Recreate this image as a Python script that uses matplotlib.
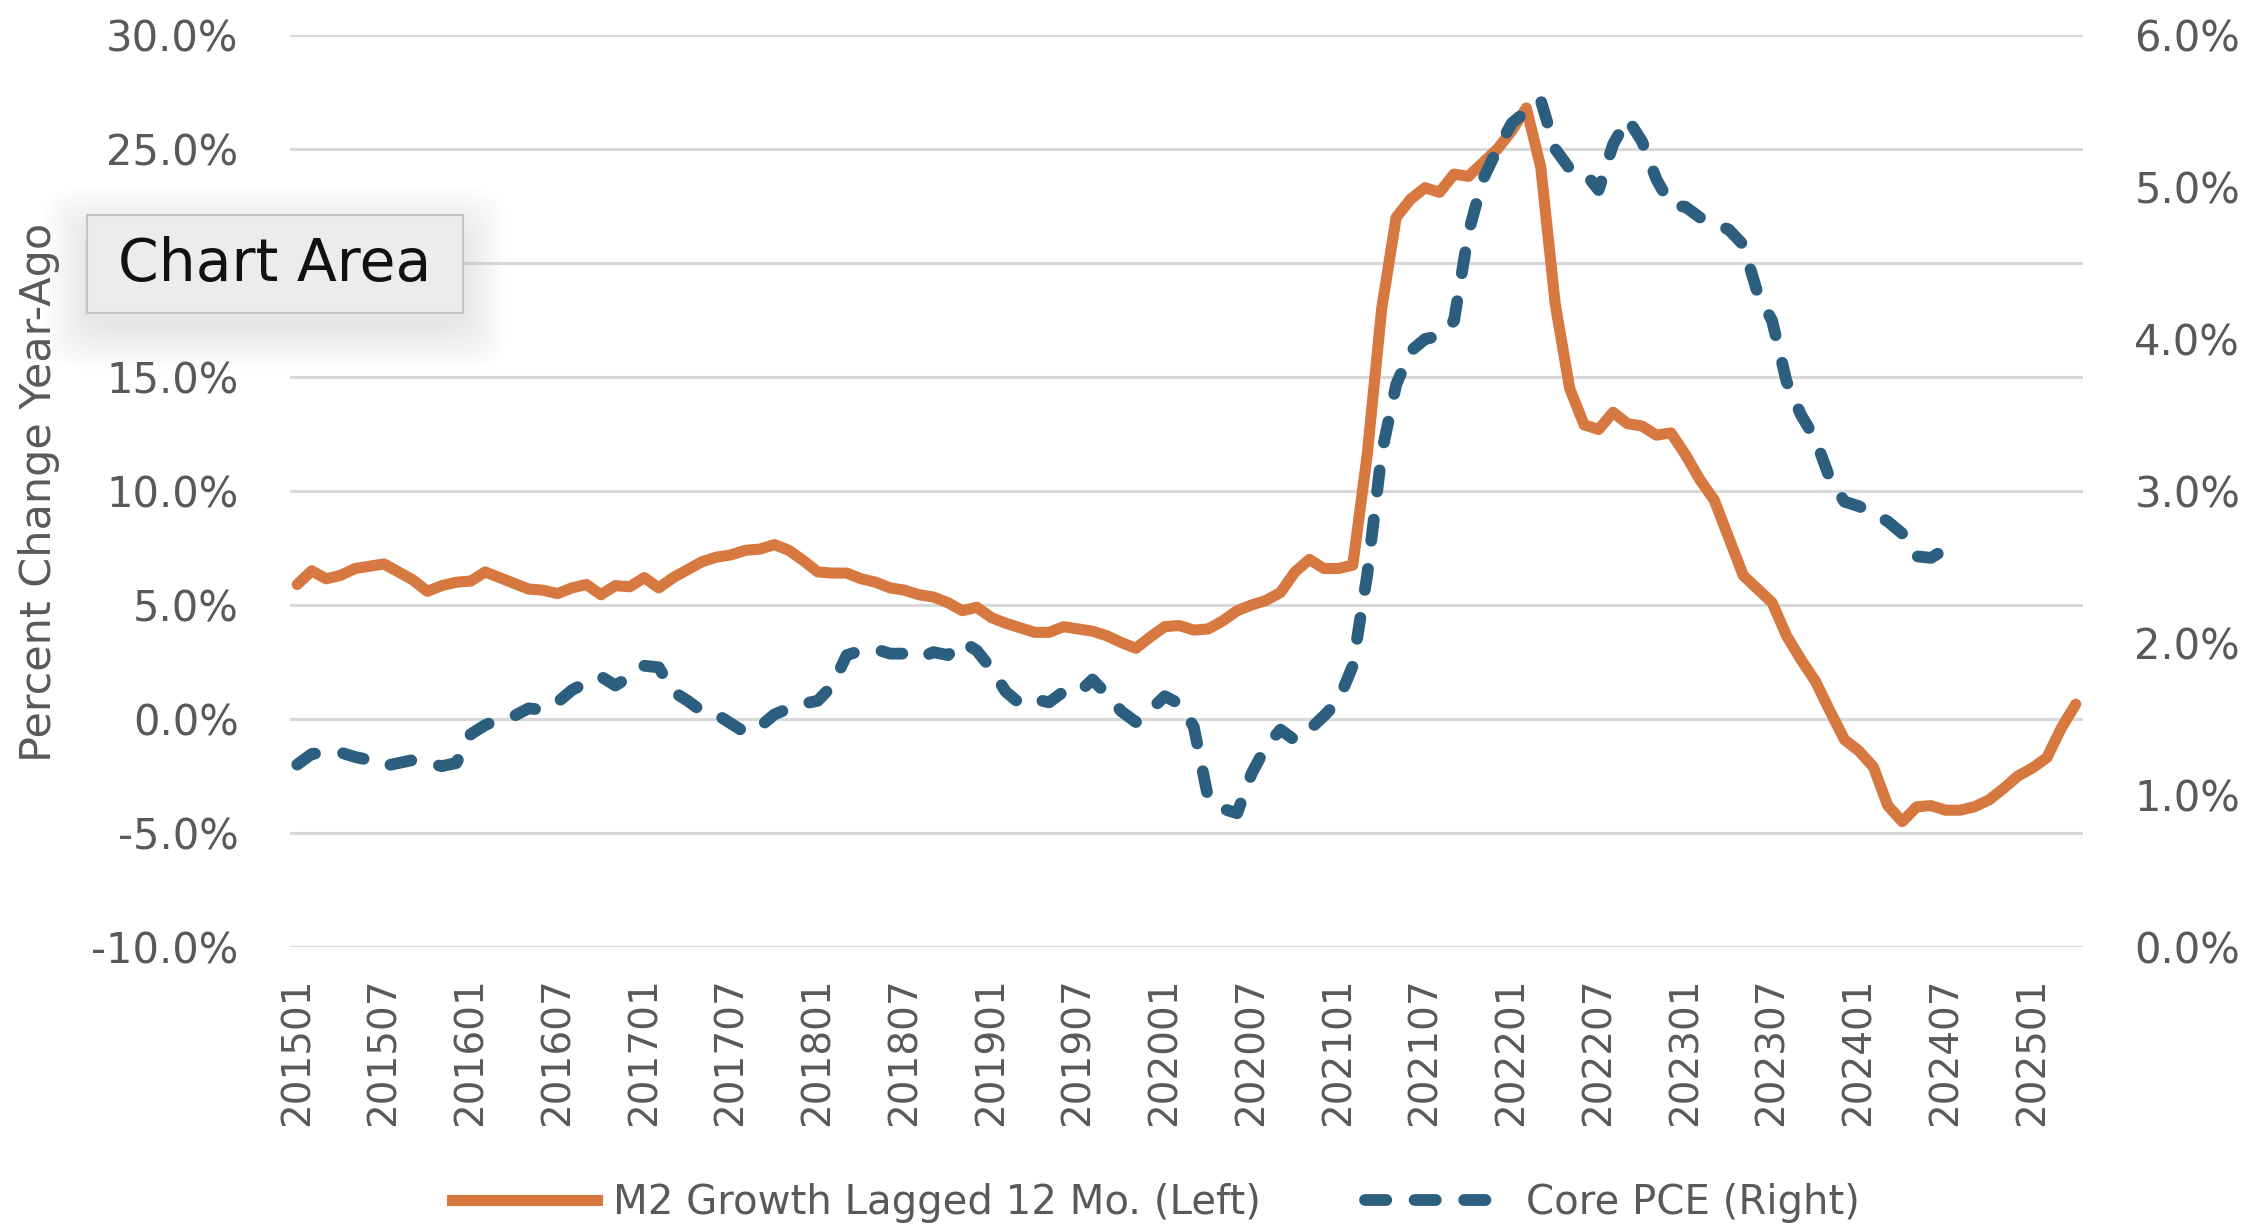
import matplotlib
matplotlib.use("Agg")
import matplotlib.pyplot as plt
from matplotlib.patches import FancyBboxPatch
from matplotlib.lines import Line2D
import pandas as pd

# monthly categories 201501 .. 202504
months = list(pd.period_range("2015-01", "2025-04", freq="M").strftime("%Y%m"))

# M2 growth lagged 12 months, % y/y (left axis)
m2_lagged = [
    5.9, 6.5, 6.15, 6.3, 6.6, 6.7, 6.8, 6.45, 6.1, 5.6, 5.85, 6.0,
    6.05, 6.45, 6.2, 5.95, 5.7, 5.65, 5.5, 5.75, 5.9, 5.45, 5.85, 5.8,
    6.2, 5.75, 6.2, 6.55, 6.9, 7.1, 7.2, 7.4, 7.45, 7.65, 7.4, 6.95,
    6.45, 6.4, 6.4, 6.15, 6.0, 5.75, 5.65, 5.45, 5.35, 5.1, 4.75, 4.9,
    4.45, 4.2, 4.0, 3.8, 3.8, 4.05, 3.95, 3.85, 3.65, 3.35, 3.1, 3.6,
    4.05, 4.1, 3.9, 3.95, 4.3, 4.75, 5.0, 5.2, 5.55, 6.45, 7.0, 6.6,
    6.6, 6.75, 11.6, 18.0, 22.0, 22.8, 23.3, 23.1, 23.9, 23.8, 24.4, 25.0,
    25.8, 26.8, 24.2, 18.2, 14.5, 12.9, 12.7, 13.45, 12.95, 12.85, 12.45, 12.55,
    11.6, 10.5, 9.6, 7.95, 6.3, 5.7, 5.1, 3.65, 2.6, 1.65, 0.35, -0.9,
    -1.4, -2.1, -3.8, -4.5, -3.85, -3.8, -4.0, -4.0, -3.85, -3.55, -3.05, -2.5,
    -2.15, -1.7, -0.4, 0.65,
]

# Core PCE, % y/y (right axis), ends 202407
core_pce = [
    1.20, 1.27, 1.28, 1.28, 1.25, 1.23, 1.19, 1.21, 1.23, 1.21, 1.19, 1.21,
    1.40, 1.46, 1.50, 1.52, 1.57, 1.56, 1.61, 1.69, 1.74, 1.78, 1.72, 1.78,
    1.85, 1.84, 1.68, 1.62, 1.55, 1.53, 1.47, 1.41, 1.45, 1.53, 1.57, 1.60,
    1.62, 1.72, 1.92, 1.95, 1.96, 1.93, 1.93, 1.90, 1.94, 1.92, 2.01, 1.95,
    1.83, 1.68, 1.60, 1.63, 1.61, 1.68, 1.67, 1.76, 1.66, 1.55, 1.48, 1.56,
    1.65, 1.60, 1.45, 0.98, 0.91, 0.88, 1.14, 1.32, 1.43, 1.36, 1.43, 1.52,
    1.62, 1.85, 2.45, 3.25, 3.70, 3.92, 4.00, 4.02, 4.12, 4.70, 5.05, 5.25,
    5.42, 5.50, 5.57, 5.25, 5.12, 5.10, 4.98, 5.28, 5.45, 5.30, 5.05, 4.88,
    4.87, 4.80, 4.76, 4.72, 4.62, 4.30, 4.12, 3.72, 3.50, 3.34, 3.08, 2.93,
    2.90, 2.85, 2.80, 2.72, 2.57, 2.56, 2.62,
]

left_ticks = [-10, -5, 0, 5, 10, 15, 20, 25, 30]
right_ticks = [0, 1, 2, 3, 4, 5, 6]

ORANGE = "#D6783F"
BLUE = "#2C5F7F"
GREY_TXT = "#595959"
GRID = "#D9D9D9"
DASH = (0, (1.8, 2.4))

W, H = 2246, 1231
fig = plt.figure(figsize=(W / 100, H / 100), dpi=100)
ax = fig.add_axes([290 / W, 1 - 947 / H, 1793 / W, 912 / H])
ax2 = ax.twinx()

x_m2 = list(range(len(m2_lagged)))
x_pce = list(range(len(core_pce)))

ax.plot(x_m2, m2_lagged, color=ORANGE, lw=8, solid_joinstyle="round",
        solid_capstyle="round", zorder=3)
ax2.plot(x_pce, core_pce, color=BLUE, lw=8.5, linestyle=DASH,
         dash_capstyle="round", dash_joinstyle="round", zorder=3)

ax.set_xlim(-0.5, len(months) - 0.5)
ax.set_ylim(-10, 30)
ax2.set_ylim(0, 6)

ax.set_yticks(left_ticks)
ax.set_yticklabels([f"{t:.1f}%" for t in left_ticks])
ax2.set_yticks(right_ticks)
ax2.set_yticklabels([f"{t:.1f}%" for t in right_ticks])

xt = list(range(0, len(months), 6))
ax.set_xticks(xt)
ax.set_xticklabels([months[i] for i in xt], rotation=90)

ax.grid(axis="y", color=GRID, lw=2.2, zorder=0)
ax.set_axisbelow(True)
for a in (ax, ax2):
    for s in a.spines.values():
        s.set_visible(False)
    a.tick_params(length=0, labelcolor=GREY_TXT)
ax.tick_params(axis="y", labelsize=30, pad=37)
ax2.tick_params(axis="y", labelsize=30, pad=37)
ax.tick_params(axis="x", labelsize=28, pad=22)

fig.text(39 / W, 1 - 492 / H, "Percent Change Year-Ago", rotation=90,
         ha="center", va="center", fontsize=31, color=GREY_TXT)

# legend
handles = [
    Line2D([], [], color=ORANGE, lw=8),
    Line2D([], [], color=BLUE, lw=8.5, linestyle=DASH, dash_capstyle="round"),
]
fig.legend(handles, ["M2 Growth Lagged 12 Mo. (Left)", "Core PCE (Right)"],
           loc="center", bbox_to_anchor=(1156 / W, 1 - 1203 / H), ncol=2,
           frameon=False, fontsize=29, handlelength=3.6, handletextpad=0.4,
           columnspacing=2.6, borderpad=0, labelcolor=GREY_TXT)

# "Chart Area" tooltip with a soft shadow
bx0, by0, bx1, by1 = 87, 215, 463, 313
for k in range(12, 0, -1):
    p = k * 3.5
    sh = FancyBboxPatch(((bx0 - p) / W, 1 - (by1 + p + 14) / H),
                        (bx1 - bx0 + 2 * p) / W, (by1 - by0 + 2 * p) / H,
                        boxstyle="round,pad=0,rounding_size=0.02",
                        transform=fig.transFigure, facecolor="#a0a0a0",
                        edgecolor="none", alpha=0.014, zorder=20)
    fig.add_artist(sh)
box = FancyBboxPatch((bx0 / W, 1 - by1 / H), (bx1 - bx0) / W, (by1 - by0) / H,
                     boxstyle="square,pad=0", transform=fig.transFigure,
                     facecolor="#ECECEC", edgecolor="#C4C4C4", lw=1.5, zorder=21)
fig.add_artist(box)
fig.text((bx0 + bx1) / 2 / W, 1 - 264 / H, "Chart Area", ha="center", va="center",
         fontsize=42, color="#111111", zorder=22)

fig.savefig("out.png", dpi=100)
